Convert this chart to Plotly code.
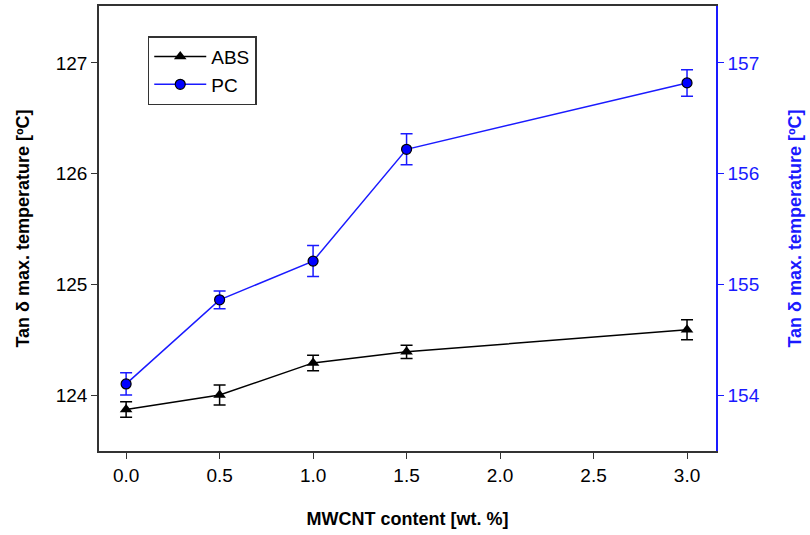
import plotly.graph_objects as go

x_vals = [0.0, 0.5, 1.0, 1.5, 3.0]
abs_vals = [123.87, 124.0, 124.29, 124.39, 124.59]
abs_err = [0.07, 0.09, 0.07, 0.06, 0.09]
pc_vals = [154.1, 154.86, 155.21, 156.22, 156.82]
pc_err = [0.1, 0.08, 0.14, 0.14, 0.12]
x_ticks = [0.0, 0.5, 1.0, 1.5, 2.0, 2.5, 3.0]
x_tick_labels = ["0.0", "0.5", "1.0", "1.5", "2.0", "2.5", "3.0"]
left_ticks = [124, 125, 126, 127]
right_ticks = [154, 155, 156, 157]

FONT = "Liberation Sans, Arial, sans-serif"
BLUE = "#1a1aff"

fig = go.Figure()
fig.add_trace(go.Scatter(
    x=x_vals, y=abs_vals, name="ABS", mode="lines+markers",
    line=dict(color="black", width=1.5),
    marker=dict(symbol="triangle-up", size=11, color="black"),
    error_y=dict(type="data", array=abs_err, color="black", thickness=1.5, width=6),
    yaxis="y",
))
fig.add_trace(go.Scatter(
    x=x_vals, y=pc_vals, name="PC", mode="lines+markers",
    line=dict(color=BLUE, width=1.5),
    marker=dict(symbol="circle", size=10, color="#0000ff", line=dict(color="black", width=1.2)),
    error_y=dict(type="data", array=pc_err, color=BLUE, thickness=1.5, width=6),
    yaxis="y2",
))

fig.update_layout(
    width=810, height=535,
    margin=dict(l=99, r=94, t=6, b=84, autoexpand=False),
    paper_bgcolor="white", plot_bgcolor="white",
    font=dict(family=FONT, size=19, color="black"),
    showlegend=True,
    legend=dict(
        x=0.079, y=0.932, xanchor="left", yanchor="top",
        bordercolor="#333333", borderwidth=1.5, bgcolor="white",
        font=dict(size=19, family=FONT),
        itemwidth=52, tracegroupgap=0,
    ),
    xaxis=dict(
        range=[-0.145, 3.155], tickvals=x_ticks, ticktext=x_tick_labels,
        showgrid=False, zeroline=False,
        showline=True, linecolor="#333333", linewidth=1.5, mirror=True,
        ticks="outside", ticklen=6, tickcolor="#333333", tickwidth=1.2,
        tickfont=dict(size=19, family=FONT, color="black"),
        title=dict(text="<b>MWCNT content [wt. %]</b>", font=dict(size=18, family=FONT), standoff=28),
    ),
    yaxis=dict(
        range=[123.494, 127.515], tickvals=left_ticks,
        showgrid=False, zeroline=False,
        showline=True, linecolor="#333333", linewidth=1.5,
        ticks="outside", ticklen=6, tickcolor="#333333", tickwidth=1.2,
        tickfont=dict(size=19, family=FONT, color="black"),
        title=dict(text="<b>Tan δ max. temperature [ºC]</b>", font=dict(size=18, family=FONT), standoff=21),
    ),
    yaxis2=dict(
        range=[153.494, 157.515], tickvals=right_ticks,
        overlaying="y", side="right",
        showgrid=False, zeroline=False,
        showline=True, linecolor=BLUE, linewidth=1.5,
        ticks="outside", ticklen=6, tickcolor=BLUE, tickwidth=1.2,
        tickfont=dict(size=19, family=FONT, color=BLUE),
        title=dict(text="<b>Tan δ max. temperature [ºC]</b>", font=dict(size=18, family=FONT, color=BLUE), standoff=30),
    ),
)

fig.write_html("out.html", config={"displayModeBar": False},
               post_script="document.body.style.margin='0px';")
